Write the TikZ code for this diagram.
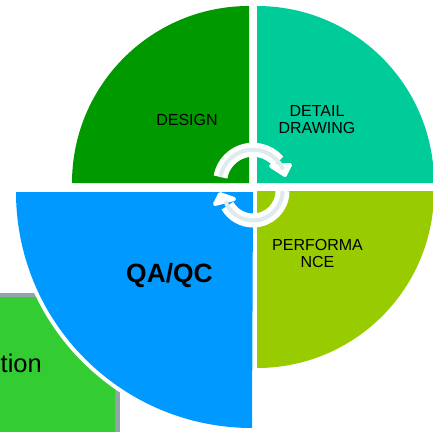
\documentclass[tikz,border=0pt]{standalone}
\usepackage{fontspec}
\setmainfont{Liberation Sans}
\tikzset{
  cycleband/.style={draw=white,line width=14pt},
  cyclecore/.style={draw=cyclelight,line width=4pt},
  cyclehead/.style={fill=white,draw=white,line width=4pt,line join=round},
  smalllabel/.style={align=center,font=\fontsize{16}{17}\selectfont,text=black,inner sep=0pt}
}
\definecolor{designgreen}{HTML}{009900}
\definecolor{detailteal}{HTML}{00CC99}
\definecolor{perflime}{HTML}{99CC00}
\definecolor{qablue}{HTML}{0099FF}
\definecolor{boxgreen}{HTML}{33CC33}
\definecolor{boxshadow}{HTML}{91A5A8}
\definecolor{cyclelight}{HTML}{DDEBEE}
\begin{document}
\begin{tikzpicture}[x=1pt,y=1pt]
  \useasboundingbox (0,0) rectangle (433,432);
  \clip (0,0) rectangle (433,432);
  % box behind the blue quarter
  \fill[boxshadow] (0,0) rectangle (120,139);
  \fill[boxgreen] (0,0) rectangle (115,135);
  \node[anchor=base east,inner sep=0pt,font=\fontsize{25.5}{28}\selectfont] (tionlabel) at (42,60) {tion};
  % quarters
  \fill[designgreen] (249,249) -- (72,249) arc (180:90:177) -- cycle;
  \fill[detailteal] (257,249) -- (257,426) arc (90:0:177) -- cycle;
  \fill[perflime] (257,241) -- (434,241) arc (0:-90:177) -- cycle;
  \draw[white,line width=8pt] (253,240) -- (16,240) arc (180:270:236) -- cycle;
  \fill[qablue] (253,240) -- (16,240) arc (180:270:236) -- cycle;
  % labels
  \node[smalllabel] (design) at (187,312) {DESIGN};
  \node[smalllabel] (detail) at (317,312.5) {DETAIL\\DRAWING};
  \node[smalllabel] (performance) at (317.5,178.5) {PERFORMA\\NCE};
  \node[inner sep=0pt,font=\fontsize{26.4}{28}\bfseries\selectfont] (qaqc) at (169.5,156.5) {QA/QC};
  % cycle arrows
  \draw[cycleband] (220.5,255) arc (170:40:33);
  \fill[cyclehead] (271,266) -- (290,267) -- (285,257) -- cycle;
  \draw[cyclecore] (220.5,255) arc (170:24:33);
  \draw[cycleband] (282.5,241) arc (0:-150:29.5);
  \fill[cyclehead] (234,233) -- (215,228) -- (220,238) -- cycle;
  \draw[cyclecore] (282.5,241) arc (0:-160:29.5);
\end{tikzpicture}
\end{document}
